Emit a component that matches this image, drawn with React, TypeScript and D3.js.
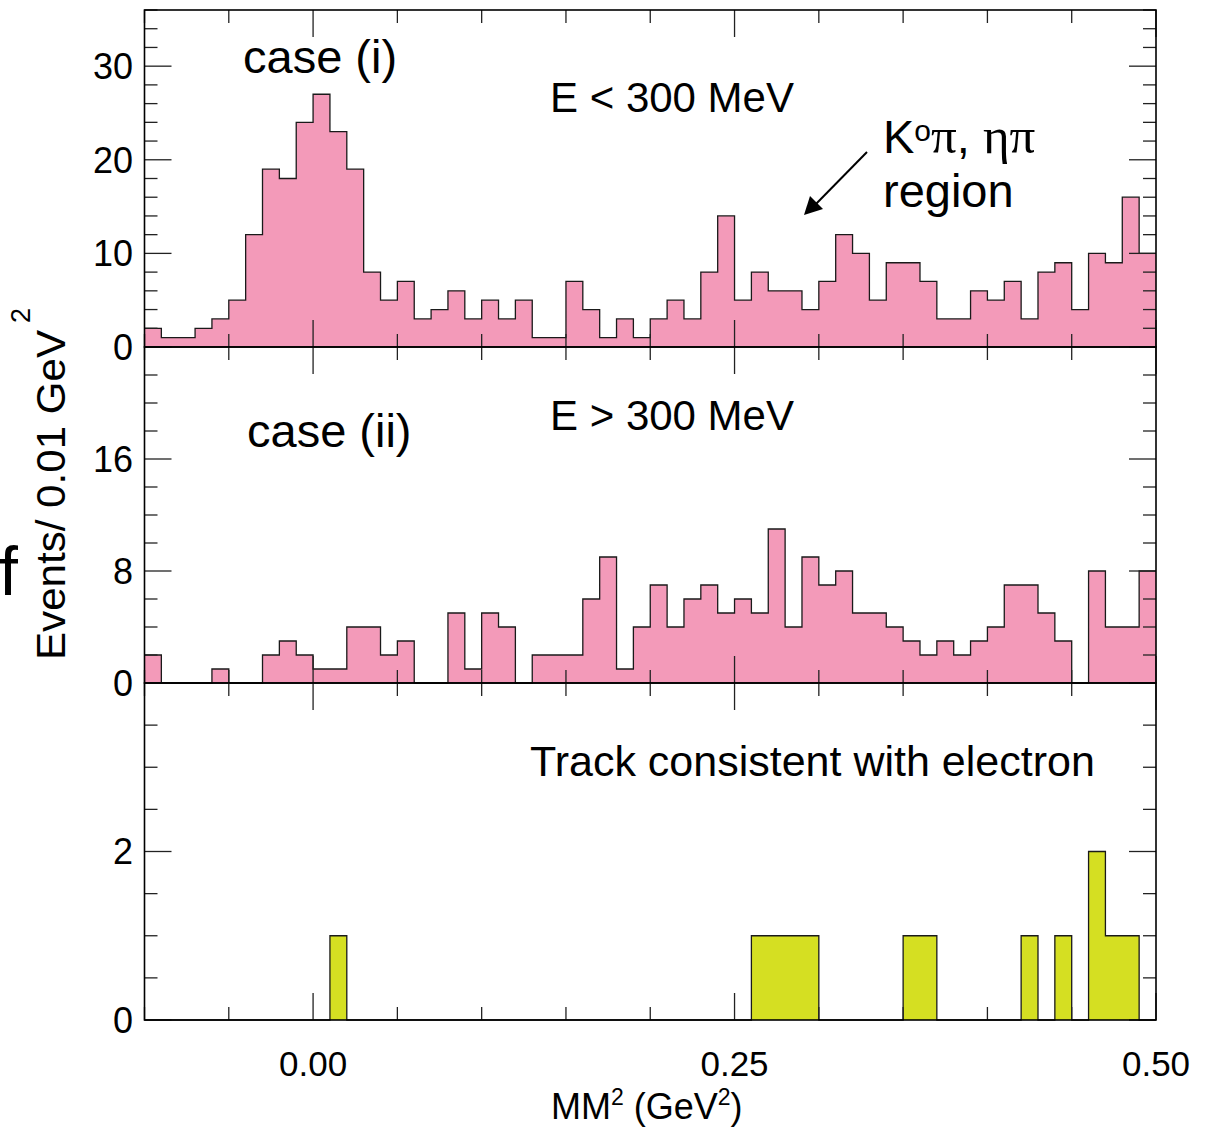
import React from 'react';
import * as d3 from 'd3';

// Missing-mass-squared histograms, 0.01 GeV^2 bins starting at -0.10 GeV^2
const binLow = -0.1;
const binWidth = 0.01;

// case (i): photon energy E < 300 MeV
const lowEnergyCounts = [
  2, 1, 1, 2, 3, 5, 12, 19, 18, 24,
  27, 23, 19, 8, 5, 7, 3, 4, 6, 3,
  5, 3, 5, 1, 1, 7, 4, 1, 3, 1,
  3, 5, 3, 8, 14, 5, 8, 6, 6, 4,
  7, 12, 10, 5, 9, 9, 7, 3, 3, 6,
  5, 7, 3, 8, 9, 4, 10, 9, 16, 10,
];

// case (ii): photon energy E > 300 MeV
const highEnergyCounts = [
  2, 0, 0, 0, 1, 0, 0, 2, 3, 2,
  1, 1, 4, 4, 2, 3, 0, 0, 5, 1,
  5, 4, 0, 2, 2, 2, 6, 9, 1, 4,
  7, 4, 6, 7, 5, 6, 5, 11, 4, 9,
  7, 8, 5, 5, 4, 3, 2, 3, 2, 3,
  4, 7, 7, 5, 3, 0, 8, 4, 4, 8,
];

// track consistent with an electron
const electronCounts = [
  0, 0, 0, 0, 0, 0, 0, 0, 0, 0,
  0, 1, 0, 0, 0, 0, 0, 0, 0, 0,
  0, 0, 0, 0, 0, 0, 0, 0, 0, 0,
  0, 0, 0, 0, 0, 0, 1, 1, 1, 1,
  0, 0, 0, 0, 0, 1, 1, 0, 0, 0,
  0, 0, 1, 0, 1, 0, 2, 1, 1, 0,
];

const xTickValues = [-0.1, -0.05, 0, 0.05, 0.1, 0.15, 0.2, 0.25, 0.3, 0.35, 0.4, 0.45, 0.5];
const xMajorTicks = [0, 0.25, 0.5];
const xTickLabels = ['0.00', '0.25', '0.50'];

const panel1YTicks = { max: 36, minor: 2, major: 10, labels: [0, 10, 20, 30] };
const panel2YTicks = { max: 24, minor: 2, major: 8, labels: [0, 8, 16] };
const panel3YTicks = { max: 4, minor: 0.5, major: 2, labels: [0, 2] };

const PINK = '#f39ab9';
const YELLOW = '#d5df22';
const FONT = '"Liberation Sans", Arial, Helvetica, sans-serif';
const SERIF = '"Liberation Serif", "Times New Roman", serif';

const W = 1211;
const H = 1129;
const left = 144.5;
const right = 1156;
const panelEdges = [10, 347, 683, 1020];

const x = d3.scaleLinear().domain([binLow, binLow + binWidth * 60]).range([left, right]);

type PanelProps = {
  counts: number[];
  ticks: { max: number; minor: number; major: number; labels: number[] };
  top: number;
  bottom: number;
  fill: string;
  showXLabels: boolean;
};

function Panel({ counts, ticks, top, bottom, fill, showXLabels }: PanelProps) {
  const y = d3.scaleLinear().domain([0, ticks.max]).range([bottom, top]);
  const pts: [number, number][] = counts.map((c, i) => [binLow + i * binWidth, c]);
  pts.push([binLow + counts.length * binWidth, counts[counts.length - 1]]);

  const area = d3
    .area<[number, number]>()
    .curve(d3.curveStepAfter)
    .x((d) => x(d[0]))
    .y0(y(0))
    .y1((d) => y(d[1]));
  const line = d3
    .line<[number, number]>()
    .curve(d3.curveStepAfter)
    .x((d) => x(d[0]))
    .y((d) => y(d[1]));

  const yTickVals = d3.range(0, ticks.max + 1e-9, ticks.minor);
  const isMajorY = (v: number) => Math.abs(v / ticks.major - Math.round(v / ticks.major)) < 1e-6;
  const isMajorX = (v: number) => xMajorTicks.some((m) => Math.abs(m - v) < 1e-9);

  return (
    <g>
      <path d={area(pts) || ''} fill={fill} stroke="none" />
      <path d={line(pts) || ''} fill="none" stroke="#1a1a1a" strokeWidth={1.3} />
      {/* y ticks on both sides, pointing inwards */}
      {yTickVals.map((v) => {
        const len = isMajorY(v) ? 27 : 13;
        return (
          <g key={'y' + v}>
            <line x1={left} x2={left + len} y1={y(v)} y2={y(v)} stroke="#222" strokeWidth={1.3} />
            <line x1={right} x2={right - len} y1={y(v)} y2={y(v)} stroke="#222" strokeWidth={1.3} />
          </g>
        );
      })}
      {/* x ticks on the bottom (up) and top (down) of the panel */}
      {xTickValues.map((v) => {
        const len = isMajorX(v) ? 27 : 13;
        return (
          <g key={'x' + v}>
            <line x1={x(v)} x2={x(v)} y1={bottom} y2={bottom - len} stroke="#222" strokeWidth={1.3} />
            <line x1={x(v)} x2={x(v)} y1={top} y2={top + len} stroke="#222" strokeWidth={1.3} />
          </g>
        );
      })}
      <rect x={left} y={top} width={right - left} height={bottom - top} fill="none" stroke="#000" strokeWidth={1.6} />
      {ticks.labels.map((v) => (
        <text
          key={'yl' + v}
          x={133}
          y={y(v)}
          dy="0.36em"
          textAnchor="end"
          fontFamily={FONT}
          fontSize={36}
          fill="#000"
        >
          {v}
        </text>
      ))}
      {showXLabels &&
        xMajorTicks.map((v, i) => (
          <text key={'xl' + v} x={x(v)} y={1076} textAnchor="middle" fontFamily={FONT} fontSize={35} fill="#000">
            {xTickLabels[i]}
          </text>
        ))}
    </g>
  );
}

export default function App() {
  return (
    <svg
      width={W}
      height={H}
      viewBox={`0 0 ${W} ${H}`}
      style={{ position: 'absolute', left: 0, top: 0, background: '#fff' }}
    >
      <rect x={0} y={0} width={W} height={H} fill="#fff" />
      <Panel counts={lowEnergyCounts} ticks={panel1YTicks} top={panelEdges[0]} bottom={panelEdges[1]} fill={PINK} showXLabels={false} />
      <Panel counts={highEnergyCounts} ticks={panel2YTicks} top={panelEdges[1]} bottom={panelEdges[2]} fill={PINK} showXLabels={false} />
      <Panel counts={electronCounts} ticks={panel3YTicks} top={panelEdges[2]} bottom={panelEdges[3]} fill={YELLOW} showXLabels={true} />

      {/* panel annotations */}
      <text x={243} y={73} fontFamily={FONT} fontSize={47} fill="#000">case (i)</text>
      <text x={550} y={112} fontFamily={FONT} fontSize={42} fill="#000">E &lt; 300 MeV</text>
      <text x={883} y={153} fontFamily={FONT} fontSize={47} fill="#000">
        K
        <tspan fontSize={30} dy={-12}>o</tspan>
        <tspan fontFamily={SERIF} fontSize={51} dy={12}>π</tspan>
        <tspan>, </tspan>
        <tspan fontFamily={SERIF} fontSize={51}>ηπ</tspan>
      </text>
      <text x={883} y={207} fontFamily={FONT} fontSize={47} fill="#000">region</text>
      <line x1={867} y1={152} x2={814} y2={206} stroke="#000" strokeWidth={2} />
      <path d="M804,215 L810,196 L823,209 Z" fill="#000" />

      <text x={247} y={447} fontFamily={FONT} fontSize={47} fill="#000">case (ii)</text>
      <text x={550} y={430} fontFamily={FONT} fontSize={42} fill="#000">E &gt; 300 MeV</text>

      <text x={530} y={776} fontFamily={FONT} fontSize={43} fill="#000">Track consistent with electron</text>

      {/* axis titles */}
      <text x={551} y={1119} fontFamily={FONT} fontSize={36} fill="#000">
        MM
        <tspan fontSize={23} dy={-14}>2</tspan>
        <tspan dy={14}> (GeV</tspan>
        <tspan fontSize={23} dy={-14}>2</tspan>
        <tspan dy={14}>)</tspan>
      </text>
      <g transform="translate(65,660) rotate(-90)">
        <text x={0} y={0} fontFamily={FONT} fontSize={41} fill="#000" textLength={330} lengthAdjust="spacingAndGlyphs">
          Events/ 0.01 GeV
        </text>
        <text x={337} y={-35} fontFamily={FONT} fontSize={27} fill="#000">2</text>
      </g>
      <text x={-1} y={595} fontFamily={FONT} fontSize={68} fill="#000">f</text>
    </svg>
  );
}
